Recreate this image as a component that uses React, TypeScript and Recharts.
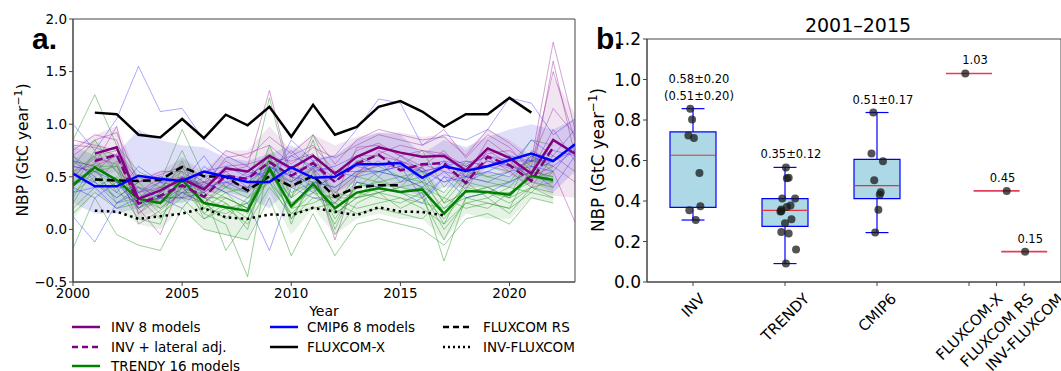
import React from 'react'
import { ComposedChart, Line, Area, XAxis, YAxis, ReferenceArea, ReferenceLine, Scatter } from 'recharts'

// ---- panel a: annual NBP 2000-2023 ----
const years = [2000, 2001, 2002, 2003, 2004, 2005, 2006, 2007, 2008, 2009, 2010, 2011, 2012, 2013, 2014, 2015, 2016, 2017, 2018, 2019, 2020, 2021, 2022, 2023]

const invMean = [null, 0.72, 0.78, 0.29, 0.37, 0.48, 0.38, 0.58, 0.55, 0.70, 0.58, 0.70, 0.53, 0.69, 0.78, 0.73, 0.69, 0.70, 0.56, 0.77, 0.68, 0.53, 0.85, 0.72]
const invLateral = [null, 0.65, 0.71, 0.245, 0.32, 0.42, 0.31, 0.51, 0.48, 0.64, 0.51, 0.63, 0.45, 0.625, 0.71, 0.56, 0.62, 0.63, 0.44, 0.69, 0.61, 0.46, 0.78, null]
const trendyMean = [0.42, 0.59, 0.47, 0.29, 0.25, 0.47, 0.25, 0.21, 0.175, 0.58, 0.22, 0.43, 0.20, 0.35, 0.39, 0.355, 0.38, 0.15, 0.365, 0.355, 0.33, 0.51, 0.47, null]
const cmipMean = [0.53, 0.41, 0.41, 0.51, 0.48, 0.46, 0.55, 0.50, 0.45, 0.45, 0.59, 0.49, 0.50, 0.62, 0.62, 0.63, 0.49, 0.60, 0.555, 0.60, 0.66, 0.72, 0.65, 0.81]
const fluxcomX = [null, 1.11, 1.095, 0.90, 0.873, 1.05, 0.867, 1.09, 0.99, 1.165, 0.88, 1.184, 0.90, 0.975, 1.165, 1.22, 1.12, 0.975, 1.095, 1.095, 1.25, 1.11, null, null]
const fluxcomRS = [null, 0.475, 0.465, 0.46, 0.47, 0.595, 0.505, 0.50, 0.37, 0.505, 0.41, 0.51, 0.31, 0.40, 0.42, 0.42, null, null, null, null, null, null, null, null]
const invFluxcom = [null, 0.178, 0.168, 0.10, 0.125, 0.15, 0.203, 0.115, 0.10, 0.143, 0.135, 0.205, 0.17, 0.135, 0.21, 0.17, 0.165, 0.133, null, null, null, null, null, null]

const invModels = [
  [0.70, 0.85, 0.92, 0.45, 0.52, 0.60, 0.50, 0.75, 0.68, 0.88, 0.72, 0.90, 0.62, 0.85, 0.95, 0.90, 0.85, 0.88, 0.70, 0.95, 0.82, 0.65, 1.78, 0.95],
  [0.55, 0.62, 0.98, 0.15, 0.30, 0.42, 0.30, 0.55, 0.60, 1.32, 0.50, 0.65, 0.48, 0.75, 0.82, 0.70, 0.60, 0.75, 0.50, 0.85, 0.70, 0.45, 1.60, 0.70],
  [0.80, 0.78, 0.70, 0.35, 0.40, 0.58, 0.45, 0.65, 0.52, 0.62, 0.70, 0.80, 0.55, 0.60, 0.72, 0.80, 0.75, 0.68, 0.62, 0.72, 0.75, 0.60, 1.50, 0.85],
  [0.50, 0.68, 0.62, 0.05, 0.18, 0.35, 0.25, 0.45, 0.40, 0.55, 0.45, 0.58, 0.35, 0.52, 0.62, 0.58, 0.62, 0.55, 0.38, 0.68, 0.55, 0.40, 0.70, 0.55],
  [0.75, 0.90, 0.85, 0.30, 0.45, 0.50, 0.42, 0.68, 0.72, 0.80, 0.62, 0.78, 0.68, 0.80, 0.90, 0.85, 0.80, 0.95, 0.68, 0.90, 0.78, 0.55, 0.95, 0.65],
  [0.60, 0.55, 0.72, 0.20, -0.05, 0.48, 0.35, 0.52, 0.48, 0.70, 0.55, 0.62, 0.45, 0.70, 0.70, 0.65, 0.55, 0.60, 0.45, 0.75, 0.62, 0.50, 0.60, 0.45],
  [0.85, 0.80, 0.75, 0.45, 0.55, 0.55, 0.40, 0.60, 0.62, 0.68, 0.65, 0.72, 0.30, 0.78, 0.80, 0.70, 0.75, 0.72, 0.60, 0.70, 0.65, 0.48, 0.55, 0.07],
  [0.65, 0.60, 0.70, 0.35, 0.50, 0.40, 0.45, 0.50, 0.38, 0.55, 0.40, 0.58, -0.10, 0.52, 0.75, 0.65, 0.58, 0.45, 0.55, 0.65, 0.58, 0.65, 1.15, 0.90],
]

const trendyModels = [
  [0.85, 1.28, 0.80, 0.55, 0.45, 0.95, 0.50, 0.40, 0.35, 1.25, 0.45, 0.90, 0.45, 0.65, 0.70, 0.60, 0.75, 0.40, 0.65, 0.60, 0.55, 0.85, 0.80],
  [0.30, 0.65, 0.40, 0.10, 0.05, 0.60, 0.15, 0.05, -0.45, 0.70, 0.05, 0.55, -0.05, 0.25, 0.35, 0.20, 0.30, -0.10, 0.30, 0.25, 0.20, 0.60, 0.45],
  [0.60, 0.85, 0.55, 0.40, 0.35, 0.50, 0.40, 0.30, 0.20, 0.80, 0.30, 0.45, 0.25, 0.50, 0.45, 0.50, 0.55, 0.25, 0.50, 0.45, 0.40, 0.65, 0.60],
  [-0.18, 0.30, -0.05, -0.15, -0.20, 0.20, 0.00, -0.05, -0.10, 0.30, -0.25, 0.15, -0.25, 0.05, 0.10, 0.05, 0.00, -0.15, 0.10, 0.15, 0.05, 0.30, 0.25],
  [0.45, 0.55, 0.60, 0.30, 0.20, 0.40, 0.30, 0.20, 0.25, 0.55, 0.20, 0.40, 0.20, 0.40, 0.45, 0.40, 0.45, 0.20, 0.40, 0.35, 0.35, 0.50, 0.45],
  [0.50, 0.70, 0.35, 0.25, 0.30, 0.65, 0.20, 0.35, 0.15, 0.60, 0.30, 0.85, 0.15, 0.30, 0.50, 0.35, 0.30, 0.10, 0.35, 0.40, 0.45, 0.70, 0.55],
  [0.20, 0.40, 0.50, 0.35, 0.15, 0.30, 0.25, 0.10, 0.30, 0.45, 0.10, 0.30, 0.30, 0.20, 0.25, 0.30, 0.20, 0.05, 0.25, 0.30, 0.15, 0.40, 0.30],
  [0.65, 0.60, 0.45, 0.20, 0.40, 0.55, 0.10, 0.25, 0.00, 0.70, 0.25, 0.40, 0.05, 0.45, 0.40, 0.45, 0.50, 0.15, 0.45, 0.40, 0.30, 0.75, 0.65],
  [0.35, 0.50, 0.30, 0.45, 0.25, 0.35, 0.35, -0.20, 0.10, 0.50, 0.15, 0.35, 0.20, 0.35, 0.30, 0.25, 0.35, 0.00, 0.25, 0.20, 0.35, 0.45, 0.40],
  [0.55, 0.45, 0.65, 0.15, 0.35, 0.75, 0.30, 0.30, 0.20, 0.65, 0.40, 0.50, 0.10, 0.40, 0.55, 0.50, 0.40, 0.30, 0.55, 0.50, 0.45, 0.55, 0.50],
  [0.25, 0.60, 0.25, 0.30, 0.10, 0.40, 0.20, 0.15, 0.25, 0.45, 0.20, 0.25, 0.35, 0.30, 0.35, 0.30, 0.25, 0.20, 0.30, 0.35, 0.25, 0.40, 0.45],
  [0.40, 0.75, 0.55, 0.20, 0.30, 0.45, 0.35, 0.25, 0.10, 0.60, 0.10, 0.45, 0.15, 0.30, 0.40, 0.35, 0.40, 0.05, 0.45, 0.30, 0.40, 0.35, 0.55],
  [0.70, 0.55, 0.40, 0.40, 0.20, 0.35, 0.25, 0.40, 0.30, 0.55, 0.30, 0.60, 0.00, 0.45, 0.35, 0.40, 0.60, 0.25, 0.35, 0.40, 0.30, 0.55, 0.50],
  [0.15, 0.35, 0.20, 0.25, 0.30, 0.30, 0.10, 0.20, 0.05, 0.40, 0.15, 0.20, 0.25, 0.15, 0.20, 0.15, 0.10, 0.30, 0.20, 0.25, 0.20, 0.35, 0.30],
  [0.55, 0.70, 0.75, 0.50, 0.40, 0.45, 0.45, 0.35, 0.40, 0.65, 0.35, 0.45, 0.40, 0.55, 0.60, 0.50, 0.45, 0.35, 0.60, 0.50, 0.55, 0.65, 0.70],
  [0.40, 0.60, 0.60, 0.30, 0.25, 0.40, 0.15, 0.30, 0.20, 0.55, 0.25, 0.35, 0.30, 0.30, 0.35, 0.40, 0.35, -0.30, 0.30, 0.35, 0.30, 0.40, 0.35],
]

const cmipModels = [
  [1.00, 0.75, 1.05, 1.55, 1.12, 1.15, 0.85, 0.70, 0.60, 0.45, 0.85, 0.65, 0.70, 0.95, 1.24, 1.20, 0.80, 0.90, 0.85, 0.95, 1.25, 1.20, 0.90, 1.05],
  [0.12, -0.12, 0.25, 0.40, 0.30, 0.20, 0.45, 0.35, 0.25, -0.20, 0.40, 0.30, 0.25, 0.45, 0.40, 0.35, 0.25, 0.50, 0.30, 0.35, 0.45, 0.55, 0.40, 0.70],
  [0.65, 0.50, 0.35, 0.60, 0.45, 0.40, 0.55, 0.60, 0.50, 0.55, 0.75, 0.55, 0.60, 0.70, 0.60, 0.65, 0.45, 0.65, 0.60, 0.70, 0.60, 0.85, 0.70, 0.95],
  [0.40, 0.30, 0.45, 0.20, 0.35, 0.50, 0.40, 0.45, 0.35, 0.60, 0.50, 0.35, 0.55, 0.50, 0.55, 0.50, 0.40, 0.55, 0.50, 0.45, 0.55, 0.60, 0.55, 0.80],
  [0.70, 0.45, 0.30, 0.45, 0.50, 0.45, 0.70, 0.40, 0.55, 0.50, 0.70, 0.60, 0.45, 0.65, 0.50, 0.70, 0.55, 0.60, 0.65, 0.60, 0.70, 0.65, 0.75, 0.70],
  [0.35, 0.40, 0.20, 0.30, 0.40, 0.35, 0.50, 0.55, 0.40, 0.45, 0.55, 0.40, 0.50, 0.60, 0.55, 0.60, 0.30, 0.50, 0.45, 0.55, 0.50, 0.70, 0.60, 0.75],
  [0.60, 0.55, 0.45, 0.25, 0.30, 0.30, 0.60, 0.45, 0.50, 0.65, 0.50, 0.45, 0.40, 0.55, 0.55, 0.60, 0.55, 0.45, 0.50, 0.65, 0.60, 0.55, 0.65, 0.80],
  [0.45, 0.45, 0.25, 0.35, 0.45, 0.30, 0.35, 0.50, 0.45, 0.60, 0.45, 0.60, 0.55, 0.55, 0.65, 0.45, 0.60, 0.65, 0.50, 0.55, 0.65, 0.65, 0.65, 0.75],
]

// shaded spread bands (low / high)
const invBandLow = [0.45, 0.50, 0.55, 0.10, 0.20, 0.30, 0.25, 0.40, 0.35, 0.45, 0.42, 0.48, 0.20, 0.50, 0.60, 0.55, 0.52, 0.50, 0.42, 0.60, 0.52, 0.40, 0.32, 0.30]
const invBandHigh = [0.80, 0.90, 0.98, 0.50, 0.55, 0.68, 0.55, 0.75, 0.75, 0.98, 0.75, 0.90, 0.80, 0.88, 0.92, 0.92, 0.88, 0.90, 0.75, 0.95, 0.85, 0.70, 1.45, 1.10]
const cmipBandLow = [0.25, 0.15, 0.15, 0.20, 0.25, 0.25, 0.35, 0.35, 0.30, 0.20, 0.40, 0.35, 0.35, 0.45, 0.40, 0.40, 0.30, 0.40, 0.40, 0.40, 0.40, 0.45, 0.35, 0.55]
const cmipBandHigh = [0.80, 0.70, 0.72, 0.95, 0.85, 0.80, 0.78, 0.68, 0.65, 0.72, 0.80, 0.68, 0.70, 0.85, 0.92, 0.90, 0.72, 0.85, 0.78, 0.88, 0.95, 1.00, 0.95, 1.05]
const trendyBandLow = [0.10, 0.35, 0.20, 0.05, 0.00, 0.20, 0.00, -0.05, -0.10, 0.35, -0.05, 0.20, -0.05, 0.10, 0.15, 0.10, 0.10, -0.10, 0.15, 0.10, 0.10, 0.30, 0.25, null]
const trendyBandHigh = [0.65, 0.85, 0.70, 0.50, 0.45, 0.70, 0.45, 0.45, 0.40, 0.80, 0.45, 0.65, 0.40, 0.55, 0.60, 0.55, 0.60, 0.35, 0.55, 0.55, 0.50, 0.70, 0.65, null]

const yTicksA = [-0.5, 0, 0.5, 1.0, 1.5, 2.0]
const xTicksA = [2000, 2005, 2010, 2015, 2020]

// ---- panel b: 2001-2015 means ----
const catPos = [1, 2, 3, 4, 4.3, 4.6]
const catLabels = ['INV', 'TRENDY', 'CMIP6', 'FLUXCOM-X', 'FLUXCOM RS', 'INV-FLUXCOM']

const boxPos = [1, 2, 3]
const boxQ1 = [0.369, 0.275, 0.412]
const boxMedian = [0.626, 0.354, 0.476]
const boxQ3 = [0.741, 0.412, 0.606]
const whiskerLow = [0.306, 0.091, 0.244]
const whiskerHigh = [0.856, 0.566, 0.837]

const invPoints = [0.856, 0.802, 0.724, 0.711, 0.538, 0.374, 0.354, 0.306]
const invJitter = [-0.03, -0.01, -0.05, 0.01, 0.07, 0.08, -0.04, 0.03]
const trendyPoints = [0.566, 0.512, 0.515, 0.412, 0.412, 0.378, 0.37, 0.358, 0.348, 0.35, 0.31, 0.29, 0.247, 0.24, 0.161, 0.091]
const trendyJitter = [0.01, 0.02, 0.04, -0.03, 0.11, 0.06, 0.02, -0.04, -0.05, -0.04, 0.07, 0.0, -0.04, 0.04, 0.12, 0.01]
const cmipPoints = [0.837, 0.634, 0.596, 0.502, 0.443, 0.431, 0.357, 0.244]
const cmipJitter = [-0.04, -0.06, 0.065, -0.03, 0.04, 0.03, 0.015, -0.02]

const singlePos = [4, 4.3, 4.6]
const singleValues = [1.03, 0.45, 0.15]
const singleJitter = [-0.04, 0.11, 0.01]

const annotPos = [1, 2, 3, 4, 4.3, 4.6]
const annotY = [0.856, 0.566, 0.837, 1.03, 0.45, 0.15]
const annotText = [['0.58±0.20', '(0.51±0.20)'], ['0.35±0.12'], ['0.51±0.17'], ['1.03'], ['0.45'], ['0.15']]

const yTicksB = [0, 0.2, 0.4, 0.6, 0.8, 1.0, 1.2]

const legendItems = [
  { label: 'INV 8 models', color: '#800080', dash: undefined as string | undefined },
  { label: 'INV + lateral adj.', color: '#800080', dash: '6 4' },
  { label: 'TRENDY 16 models', color: '#008000', dash: undefined },
  { label: 'CMIP6 8 models', color: '#0000ff', dash: undefined },
  { label: 'FLUXCOM-X', color: '#000000', dash: undefined },
  { label: 'FLUXCOM RS', color: '#000000', dash: '6 4' },
  { label: 'INV-FLUXCOM', color: '#000000', dash: '2 3' },
]

const rowsA = years.map((year, i) => {
  const row: Record<string, any> = {
    year,
    invMean: invMean[i],
    invLateral: invLateral[i],
    trendyMean: trendyMean[i],
    cmipMean: cmipMean[i],
    fluxcomX: fluxcomX[i],
    fluxcomRS: fluxcomRS[i],
    invFluxcom: invFluxcom[i],
    invBand: [invBandLow[i], invBandHigh[i]],
    cmipBand: [cmipBandLow[i], cmipBandHigh[i]],
    trendyBand: trendyBandHigh[i] == null ? null : [trendyBandLow[i], trendyBandHigh[i]],
  }
  invModels.forEach((m, k) => { row['inv' + k] = m[i] ?? null })
  trendyModels.forEach((m, k) => { row['tr' + k] = m[i] ?? null })
  cmipModels.forEach((m, k) => { row['cm' + k] = m[i] ?? null })
  return row
})

const pts = (vals: number[], jit: number[], pos: number) => vals.map((v, i) => ({ x: pos + jit[i], y: v }))
const dotsB = [
  ...pts(invPoints, invJitter, 1),
  ...pts(trendyPoints, trendyJitter, 2),
  ...pts(cmipPoints, cmipJitter, 3),
  ...singleValues.map((v, i) => ({ x: singlePos[i] + singleJitter[i], y: v })),
]
const annotB = annotPos.map((x, i) => ({ x, y: annotY[i], lines: annotText[i] }))

const FONT = '"DejaVu Sans", Verdana, sans-serif'
const fmt = (v: number) => (v < 0 ? '\u2212' + Math.abs(v).toFixed(1) : v.toFixed(1))

let measureCtx: CanvasRenderingContext2D | null = null
function textWidth(t: string, font: string) {
  if (!measureCtx) measureCtx = document.createElement('canvas').getContext('2d')
  if (!measureCtx) return t.length * 9
  measureCtx.font = font
  return measureCtx.measureText(t).width
}

function CategoryTick(props: any) {
  const { x, y, payload } = props
  const idx = catPos.findIndex(p => Math.abs(p - payload.value) < 1e-6)
  const label = idx >= 0 ? catLabels[idx] : ''
  const fs = 15
  const w = textWidth(label, `${fs}px ${FONT}`)
  const h = fs * 0.73
  const top = y + 4
  const cy = top + (w + h) * 0.354
  const px = x + 0.354 * h
  const py = cy + 0.354 * h
  return (
    <text x={px} y={py} textAnchor="middle" fontSize={fs} fontFamily={FONT} fill="#000"
      transform={`rotate(-45 ${px} ${py})`}>{label}</text>
  )
}

function Dot(props: any) {
  const { cx, cy } = props
  return <circle cx={cx} cy={cy} r={4} fill="#1a1a1a" fillOpacity={0.75} />
}

function Annot(props: any) {
  const { cx, cy, payload } = props
  const lines: string[] = payload.lines
  return (
    <text textAnchor="middle" fontSize={11.5} fontFamily={FONT} fill="#000">
      {lines.map((l, i) => (
        <tspan key={i} x={cx + 6} y={cy - 9 - (lines.length - 1 - i) * 17}>{l}</tspan>
      ))}
    </text>
  )
}

function YLabel({ x, y, size }: { x: number; y: number; size: number }) {
  return (
    <div style={{ position: 'absolute', left: x, top: y, transform: 'translate(-50%, -50%) rotate(-90deg)', whiteSpace: 'nowrap', fontSize: size, fontFamily: FONT }}>
      NBP (GtC year<sup style={{ fontSize: '70%' }}>−1</sup>)
    </div>
  )
}

function LegendSample({ color, dash }: { color: string; dash?: string }) {
  return (
    <svg width={28} height={6} style={{ display: 'block' }}>
      <line x1={0} y1={3} x2={28} y2={3} stroke={color} strokeWidth={2.5} strokeDasharray={dash} />
    </svg>
  )
}

export default function App() {
  const axisStroke = '#444'
  const legendCols = [
    { lineX: 72, textX: 111, items: legendItems.slice(0, 3) },
    { lineX: 270, textX: 307, items: legendItems.slice(3, 5) },
    { lineX: 443, textX: 483, items: legendItems.slice(5, 7) },
  ]
  const rowY = [327, 347, 366]

  return (
    <div style={{ position: 'absolute', left: 0, top: 0, width: 1061, height: 371, overflow: 'hidden', background: '#fff', fontFamily: FONT }}>
      {/* panel a */}
      <div style={{ position: 'absolute', left: 0, top: 0 }}>
        <ComposedChart width={590} height={300} data={rowsA} margin={{ top: 19, right: 15, bottom: 0, left: 0 }}>
          <XAxis dataKey="year" type="number" domain={[2000, 2023]} ticks={xTicksA} allowDataOverflow
            height={18} tickSize={4} tickMargin={2} stroke={axisStroke}
            tick={{ fontSize: 13.5, fill: '#000', fontFamily: FONT }} />
          <YAxis type="number" domain={[-0.5, 2]} ticks={yTicksA} allowDataOverflow width={73}
            tickSize={4} tickMargin={2} stroke={axisStroke} tickFormatter={fmt}
            tick={{ fontSize: 13.5, fill: '#000', fontFamily: FONT }} />
          <Area dataKey="cmipBand" stroke="none" fill="#3a3ae0" fillOpacity={0.16} isAnimationActive={false} connectNulls={false} />
          <Area dataKey="invBand" stroke="none" fill="#800080" fillOpacity={0.1} isAnimationActive={false} connectNulls={false} />
          <Area dataKey="trendyBand" stroke="none" fill="#008000" fillOpacity={0.1} isAnimationActive={false} connectNulls={false} />
          {trendyModels.map((_, k) => (
            <Line key={'tr' + k} dataKey={'tr' + k} stroke="#2e9a2e" strokeOpacity={0.6} strokeWidth={0.8} dot={false} activeDot={false} isAnimationActive={false} />
          ))}
          {invModels.map((_, k) => (
            <Line key={'inv' + k} dataKey={'inv' + k} stroke="#9a2a9a" strokeOpacity={0.55} strokeWidth={0.8} dot={false} activeDot={false} isAnimationActive={false} />
          ))}
          {cmipModels.map((_, k) => (
            <Line key={'cm' + k} dataKey={'cm' + k} stroke="#2a2aff" strokeOpacity={0.5} strokeWidth={0.8} dot={false} activeDot={false} isAnimationActive={false} />
          ))}
          <Line dataKey="fluxcomX" stroke="#000" strokeWidth={2.5} dot={false} activeDot={false} isAnimationActive={false} />
          <Line dataKey="fluxcomRS" stroke="#000" strokeWidth={2.5} strokeDasharray="8 4" dot={false} activeDot={false} isAnimationActive={false} />
          <Line dataKey="invFluxcom" stroke="#000" strokeWidth={2.5} strokeDasharray="2.5 3.5" dot={false} activeDot={false} isAnimationActive={false} />
          <Line dataKey="trendyMean" stroke="#008000" strokeWidth={2.5} dot={false} activeDot={false} isAnimationActive={false} />
          <Line dataKey="invLateral" stroke="#800080" strokeWidth={2.5} strokeDasharray="8 4" dot={false} activeDot={false} isAnimationActive={false} />
          <Line dataKey="invMean" stroke="#800080" strokeWidth={2.5} dot={false} activeDot={false} isAnimationActive={false} />
          <Line dataKey="cmipMean" stroke="#0000ff" strokeWidth={2.5} dot={false} activeDot={false} isAnimationActive={false} />
          <ReferenceArea x1={2000} x2={2023} y1={-0.5} y2={2} fill="none" stroke={axisStroke} strokeWidth={1} />
        </ComposedChart>
      </div>

      <div style={{ position: 'absolute', left: 32, top: 22, fontSize: 30, fontWeight: 'bold', fontFamily: '"Liberation Sans", Arial, sans-serif' }}>a.</div>
      <YLabel x={22} y={150} size={15.5} />
      <div style={{ position: 'absolute', left: 324, top: 311, transform: 'translate(-50%, -50%)', fontSize: 14 }}>Year</div>

      {legendCols.map((col, c) => col.items.map((it, r) => (
        <React.Fragment key={c + '-' + r}>
          <div style={{ position: 'absolute', left: col.lineX, top: rowY[r] - 3 }}>
            <LegendSample color={it.color} dash={it.dash} />
          </div>
          <div style={{ position: 'absolute', left: col.textX, top: rowY[r], transform: 'translateY(-50%)', fontSize: 13.5, whiteSpace: 'nowrap' }}>{it.label}</div>
        </React.Fragment>
      )))}

      {/* panel b */}
      <div style={{ position: 'absolute', left: 590, top: 0 }}>
        <ComposedChart width={471} height={371} margin={{ top: 39, right: 0, bottom: 0, left: 0 }}>
          <XAxis dataKey="x" type="number" domain={[0.5, 5]} ticks={catPos} allowDataOverflow interval={0}
            height={89} tickSize={4} tickMargin={2} stroke={axisStroke} tick={<CategoryTick />} />
          <YAxis dataKey="y" type="number" domain={[0, 1.2]} ticks={yTicksB} allowDataOverflow width={57}
            tickSize={4} tickMargin={2} stroke={axisStroke} tickFormatter={fmt}
            tick={{ fontSize: 17, fill: '#000', fontFamily: FONT }} />
          {boxPos.map((p, i) => (
            <ReferenceLine key={'wl' + i} segment={[{ x: p, y: whiskerLow[i] }, { x: p, y: boxQ1[i] }]} stroke="#0000ff" strokeWidth={1.2} />
          ))}
          {boxPos.map((p, i) => (
            <ReferenceLine key={'wh' + i} segment={[{ x: p, y: boxQ3[i] }, { x: p, y: whiskerHigh[i] }]} stroke="#0000ff" strokeWidth={1.2} />
          ))}
          {boxPos.map((p, i) => (
            <ReferenceLine key={'cl' + i} segment={[{ x: p - 0.125, y: whiskerLow[i] }, { x: p + 0.125, y: whiskerLow[i] }]} stroke="#0000ff" strokeWidth={1.2} />
          ))}
          {boxPos.map((p, i) => (
            <ReferenceLine key={'ch' + i} segment={[{ x: p - 0.125, y: whiskerHigh[i] }, { x: p + 0.125, y: whiskerHigh[i] }]} stroke="#0000ff" strokeWidth={1.2} />
          ))}
          {boxPos.map((p, i) => (
            <ReferenceArea key={'bx' + i} x1={p - 0.25} x2={p + 0.25} y1={boxQ1[i]} y2={boxQ3[i]} fill="#add8e6" fillOpacity={1} stroke="#0000ff" strokeWidth={1.2} />
          ))}
          {boxPos.map((p, i) => (
            <ReferenceLine key={'md' + i} segment={[{ x: p - 0.25, y: boxMedian[i] }, { x: p + 0.25, y: boxMedian[i] }]} stroke="#e8313f" strokeWidth={1.2} />
          ))}
          {singlePos.map((p, i) => (
            <ReferenceLine key={'sg' + i} segment={[{ x: p - 0.25, y: singleValues[i] }, { x: p + 0.25, y: singleValues[i] }]} stroke="#e0405a" strokeWidth={1.6} />
          ))}
          <Scatter data={dotsB} shape={<Dot />} isAnimationActive={false} />
          <Scatter data={annotB} shape={<Annot />} isAnimationActive={false} />
          <ReferenceArea x1={0.5} x2={5} y1={0} y2={1.2} fill="none" stroke={axisStroke} strokeWidth={1} />
        </ComposedChart>
      </div>

      <div style={{ position: 'absolute', left: 596, top: 22, fontSize: 30, fontWeight: 'bold', fontFamily: '"Liberation Sans", Arial, sans-serif' }}>b.</div>
      <YLabel x={597} y={160} size={16.8} />
      <div style={{ position: 'absolute', left: 858, top: 25, transform: 'translate(-50%, -50%)', fontSize: 19, whiteSpace: 'nowrap' }}>2001–2015</div>
    </div>
  )
}
